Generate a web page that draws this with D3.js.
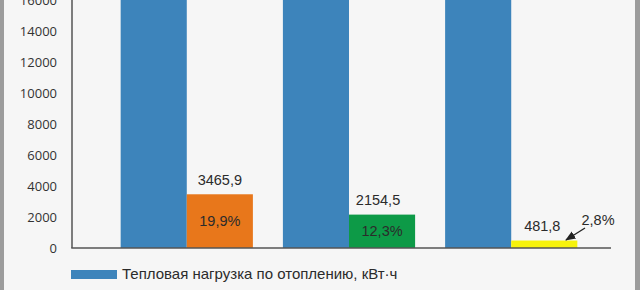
<!DOCTYPE html>
<html>
<head>
<meta charset="utf-8">
<script src="https://cdn.jsdelivr.net/npm/d3@7"></script>
<style>
  html, body { margin: 0; padding: 0; background: #f6f6f6; }
  svg { display: block; }
</style>
</head>
<body>
<svg id="chart" width="640" height="290"></svg>
<script>
// data
const categories = ['A', 'B', 'C']
const heatLoad = [17420, 17520, 17210]          // тепловая нагрузка, кВт·ч (tops cut off)
const savedValues = [3465.9, 2154.5, 481.8]
const savedLabels = ['3465,9', '2154,5', '481,8']
const percentLabels = ['19,9%', '12,3%', '2,8%']
const savedColors = ['#e8771b', '#0d9a47', '#f7f30c']
const yTicks = [0, 2000, 4000, 6000, 8000, 10000, 12000, 14000, 16000]
const legendText = 'Тепловая нагрузка по отоплению, кВт·ч'

const svgWidth = 640
const svgHeight = 290
const margin = { left: 72, top: 0 }
const baseY = 248

const svg = d3.select('#chart')

// borders left / right
svg.append('rect').attr('x', 0).attr('y', 0).attr('width', 4).attr('height', svgHeight).attr('fill', '#9c9c9c')
svg.append('rect').attr('x', 635).attr('y', 0).attr('width', 5).attr('height', svgHeight).attr('fill', '#9c9c9c')

const yScale = d3.scaleLinear()
    .domain([0, 16000])
    .range([baseY, margin.top])

const xScale = d3.scaleBand()
    .domain(categories)
    .range([margin.left, 626])
    .paddingInner(0.185)
    .paddingOuter(0.3)

const subScale = d3.scaleBand()
    .domain(['load', 'saved'])
    .range([0, xScale.bandwidth()])

const content = svg.append('g')

// blue bars
content.selectAll('.load-bar')
    .data(categories)
    .join('rect')
    .attr('class', 'load-bar')
    .attr('x', d => xScale(d) + subScale('load'))
    .attr('y', (d, i) => yScale(heatLoad[i]))
    .attr('width', subScale.bandwidth())
    .attr('height', (d, i) => baseY - yScale(heatLoad[i]))
    .attr('fill', '#3d84bb')

// coloured bars
content.selectAll('.saved-bar')
    .data(categories)
    .join('rect')
    .attr('class', 'saved-bar')
    .attr('x', d => xScale(d) + subScale('saved'))
    .attr('y', (d, i) => yScale(savedValues[i]))
    .attr('width', subScale.bandwidth())
    .attr('height', (d, i) => baseY - yScale(savedValues[i]))
    .attr('fill', (d, i) => savedColors[i])

// value labels above bars
content.selectAll('.value-text')
    .data(categories)
    .join('text')
    .attr('class', 'value-text')
    .attr('x', (d, i) => xScale(d) + subScale('saved') + subScale.bandwidth() / 2 + (i === 1 ? -4 : i === 2 ? -2 : 0))
    .attr('y', (d, i) => i === 2 ? 227 : yScale(savedValues[i]) - 13)
    .attr('text-anchor', 'middle')
    .attr('dominant-baseline', 'middle')
    .attr('font-family', 'Liberation Sans, Arial, sans-serif')
    .attr('font-size', '14.5px')
    .attr('fill', '#2b2b2b')
    .text((d, i) => savedLabels[i])

// percentage labels inside bars (the last one sits outside with an arrow)
content.selectAll('.pct-text')
    .data(categories)
    .join('text')
    .attr('class', 'pct-text')
    .attr('x', (d, i) => i === 2 ? 598 : xScale(d) + subScale('saved') + subScale.bandwidth() / 2)
    .attr('y', (d, i) => i === 2 ? 221 : (yScale(savedValues[i]) + baseY) / 2 + 1)
    .attr('text-anchor', 'middle')
    .attr('dominant-baseline', 'middle')
    .attr('font-family', 'Liberation Sans, Arial, sans-serif')
    .attr('font-size', '14.5px')
    .attr('fill', '#2b2b2b')
    .text((d, i) => percentLabels[i])

// arrow to the small yellow bar
svg.append('defs').append('marker')
    .attr('id', 'arrow')
    .attr('viewBox', '0 0 10 10')
    .attr('refX', 9).attr('refY', 5)
    .attr('markerWidth', 8).attr('markerHeight', 8)
    .attr('orient', 'auto')
    .append('path')
    .attr('d', 'M0,1 L10,5 L0,9 Z')
    .attr('fill', '#222')

svg.append('line')
    .attr('x1', 585).attr('y1', 228)
    .attr('x2', 566).attr('y2', 240)
    .attr('stroke', '#222')
    .attr('stroke-width', 1.3)
    .attr('marker-end', 'url(#arrow)')

// y axis
const yAxis = d3.axisLeft(yScale).tickValues(yTicks).tickFormat(d3.format('d')).tickSize(0).tickPadding(15)
svg.append('g')
    .attr('transform', `translate(${margin.left},0)`)
    .call(yAxis)
    .call(g => g.select('.domain').remove())
    .call(g => g.selectAll('text')
        .attr('font-family', 'Open Sans, sans-serif')
        .attr('font-size', '13px')
        .attr('fill', '#333'))

svg.append('line')
    .attr('x1', margin.left).attr('x2', margin.left)
    .attr('y1', 0).attr('y2', baseY)
    .attr('stroke', '#555').attr('stroke-width', 1.5)

// baseline
svg.append('line')
    .attr('x1', margin.left - 0.75).attr('x2', 611)
    .attr('y1', baseY).attr('y2', baseY)
    .attr('stroke', '#555').attr('stroke-width', 1.5)

// legend
svg.append('rect')
    .attr('x', 71).attr('y', 270)
    .attr('width', 46).attr('height', 9)
    .attr('fill', '#3d84bb')

svg.append('text')
    .attr('x', 122).attr('y', 275)
    .attr('dominant-baseline', 'middle')
    .attr('font-family', 'Liberation Sans, Arial, sans-serif')
    .attr('font-size', '15px')
    .attr('fill', '#2b2b2b')
    .text(legendText)
</script>
</body>
</html>
